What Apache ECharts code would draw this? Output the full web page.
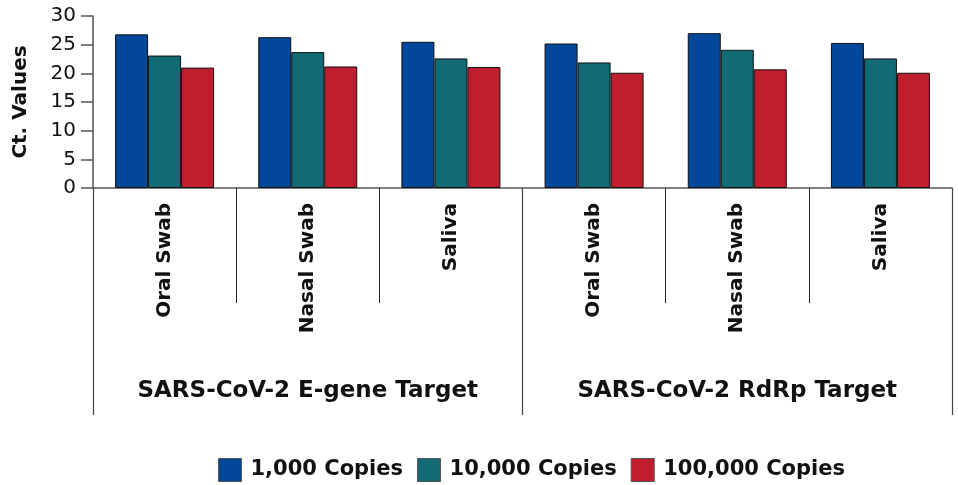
<!DOCTYPE html>
<html>
<head>
<meta charset="utf-8">
<script src="https://cdn.jsdelivr.net/npm/echarts@6/dist/echarts.min.js"></script>
<style>
  html, body { margin: 0; padding: 0; background: #fff; }
  #chart { width: 958px; height: 485px; }
</style>
</head>
<body>
<div id="chart"></div>
<script>
// sample types (inner axis) and targets (outer axis)
const samples = ['Oral Swab', 'Nasal Swab', 'Saliva', 'Oral Swab', 'Nasal Swab', 'Saliva'];
const targets = ['SARS-CoV-2 E-gene Target', 'SARS-CoV-2 RdRp Target'];
const seriesNames = ['1,000 Copies', '10,000 Copies', '100,000 Copies'];

// Ct values
const copies1k = [26.8, 26.3, 25.5, 25.2, 27.0, 25.3];
const copies10k = [23.1, 23.7, 22.6, 21.9, 24.1, 22.6];
const copies100k = [21.0, 21.2, 21.1, 20.1, 20.7, 20.1];

const yTicks = [0, 5, 10, 15, 20, 25, 30];

const colors = ['#02479a', '#116a74', '#bf1e2e'];
const FONT = 'DejaVu Sans';

const chart = echarts.init(document.getElementById('chart'));

const mkSeries = (name, data, i) => ({
    name: name,
    type: 'bar',
    data: data,
    barWidth: 33,
    barGap: '0%',
    itemStyle: { color: colors[i], borderColor: '#111', borderWidth: 1 }
});

chart.setOption({
    animation: false,
    textStyle: { fontFamily: FONT },
    grid: { left: 93, right: 6, top: 16, bottom: 297, containLabel: false },
    legend: {
        left: 213,
        top: 453,
        itemWidth: 23,
        itemHeight: 23,
        itemGap: 14,
        icon: 'rect',
        itemStyle: { borderColor: '#555', borderWidth: 1 },
        textStyle: { fontFamily: FONT, fontWeight: 'bold', fontSize: 21, color: '#111', padding: [0, 0, 0, 4] },
        data: seriesNames
    },
    xAxis: [
        {
            type: 'category',
            data: samples,
            position: 'bottom',
            axisLine: { lineStyle: { color: '#555', width: 1.5 } },
            axisTick: { show: true, length: 115, alignWithLabel: false, interval: 0, lineStyle: { color: '#222' } },
            axisLabel: {
                interval: 0,
                rotate: 90,
                margin: 15,
                fontFamily: FONT,
                fontWeight: 'bold',
                fontSize: 20,
                color: '#111'
            }
        },
        {
            type: 'category',
            data: targets,
            position: 'bottom',
            axisLine: { show: false },
            axisTick: { show: true, length: 227, interval: 0, lineStyle: { color: '#444', width: 1.2 } },
            axisLabel: {
                interval: 0,
                margin: 192,
                fontFamily: FONT,
                fontWeight: 'bold',
                fontSize: 23,
                color: '#111'
            }
        }
    ],
    yAxis: {
        type: 'value',
        min: yTicks[0],
        max: yTicks[yTicks.length - 1],
        interval: 5,
        name: 'Ct. Values',
        nameLocation: 'middle',
        nameGap: 62,
        nameTextStyle: { fontFamily: FONT, fontWeight: 'bold', fontSize: 20, color: '#111' },
        axisLine: { show: true, lineStyle: { color: '#555', width: 1.5 } },
        axisTick: { show: true, length: 12, lineStyle: { color: '#555', width: 1.5 } },
        axisLabel: { margin: 17, fontFamily: FONT, fontSize: 20, color: '#111' },
        splitLine: { show: false }
    },
    series: [
        mkSeries(seriesNames[0], copies1k, 0),
        mkSeries(seriesNames[1], copies10k, 1),
        mkSeries(seriesNames[2], copies100k, 2)
    ]
});
</script>
</body>
</html>
